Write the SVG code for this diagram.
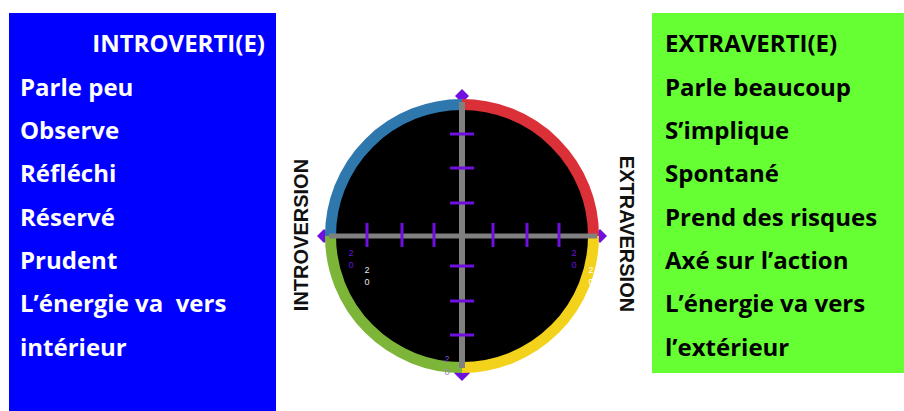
<svg xmlns="http://www.w3.org/2000/svg" width="904" height="411" viewBox="0 0 904 411">
<style>
.wt{font-family:"Open Sans",Lato,"Liberation Sans",sans-serif;font-weight:700;font-size:24px;fill:#ffffff}
.bt{font-family:"Open Sans",Lato,"Liberation Sans",sans-serif;font-weight:700;font-size:24px;fill:#000000}
.ax{font-family:"Liberation Sans",Arial,sans-serif;font-weight:700;font-size:20px;fill:#111111}
.ring{fill:none;stroke-width:11}
.tick{stroke:#6f10e0;stroke-width:3}
.axis{stroke:#808080}
.dia{fill:#6f10e0}
.sm{font-family:"Liberation Sans",Arial,sans-serif;font-size:9px;text-anchor:middle}
</style>
<rect width="904" height="411" fill="#ffffff"/>
<g id="introverti">
<rect x="9" y="13" width="267" height="398" fill="#0000ff"/>
<text class="wt" x="265" y="52" text-anchor="end">INTROVERTI(E)</text>
<text class="wt" x="20" y="95.5">Parle peu</text>
<text class="wt" x="20" y="139">Observe</text>
<text class="wt" x="20" y="182">Réfléchi</text>
<text class="wt" x="20" y="225.5">Réservé</text>
<text class="wt" x="20" y="269">Prudent</text>
<text class="wt" x="20" y="312" xml:space="preserve">L’énergie va  vers</text>
<text class="wt" x="20" y="355.5">intérieur</text>
</g>
<g id="extraverti">
<rect x="652" y="13" width="252" height="360" fill="#66ff33"/>
<text class="bt" x="665" y="52">EXTRAVERTI(E)</text>
<text class="bt" x="665" y="95.5">Parle beaucoup</text>
<text class="bt" x="665" y="139">S’implique</text>
<text class="bt" x="665" y="182">Spontané</text>
<text class="bt" x="665" y="225.5">Prend des risques</text>
<text class="bt" x="665" y="269">Axé sur l’action</text>
<text class="bt" x="665" y="312">L’énergie va vers</text>
<text class="bt" x="665" y="355.5">l’extérieur</text>
</g>
<g id="labels">
<text class="ax" transform="translate(308,235) rotate(-90)" text-anchor="middle">INTROVERSION</text>
<text class="ax" transform="translate(620,234) rotate(90)" text-anchor="middle">EXTRAVERSION</text>
</g>
<g id="compass">
<polygon class="dia" points="317,236 324,229 331,236 324,243"/>
<polygon class="dia" points="593,236 600,229 607,236 600,243"/>
<polygon class="dia" points="462,89 469,96 462,103 455,96"/>
<polygon class="dia" points="454,373 462,381 470,373 462,365"/>
<circle cx="462" cy="236" r="132" fill="#000000"/>
<path class="ring" stroke="#2e78ae" d="M330.5,236 A131.5,131.5 0 0 1 462,104.5"/>
<path class="ring" stroke="#dc3038" d="M462,104.5 A131.5,131.5 0 0 1 593.5,236"/>
<path class="ring" stroke="#f2d21a" d="M593.5,236 A131.5,131.5 0 0 1 462,367.5"/>
<path class="ring" stroke="#7cb537" d="M462,367.5 A131.5,131.5 0 0 1 330.5,236"/>
</g>
<g id="connectors">
<line class="axis" x1="329" y1="236" x2="597" y2="236" stroke-width="5"/>
<line class="axis" x1="462" y1="102" x2="462" y2="368" stroke-width="6"/>
<g class="tick">
<line x1="367" y1="223" x2="367" y2="247"/>
<line x1="402" y1="223" x2="402" y2="247"/>
<line x1="434" y1="223" x2="434" y2="247"/>
<line x1="493" y1="223" x2="493" y2="247"/>
<line x1="527" y1="223" x2="527" y2="247"/>
<line x1="559" y1="223" x2="559" y2="247"/>
<line x1="450" y1="134" x2="474" y2="134"/>
<line x1="450" y1="168" x2="474" y2="168"/>
<line x1="450" y1="203" x2="474" y2="203"/>
<line x1="450" y1="266" x2="474" y2="266"/>
<line x1="450" y1="301" x2="474" y2="301"/>
<line x1="450" y1="335" x2="474" y2="335"/>
</g>
</g>
<g id="scale-labels">
<text class="sm" x="351" y="256" fill="#6f10e0">2</text>
<text class="sm" x="351" y="268" fill="#6f10e0">0</text>
<text class="sm" x="367" y="273" fill="#e8e8e8">2</text>
<text class="sm" x="367" y="285" fill="#e8e8e8">0</text>
<text class="sm" x="574" y="256" fill="#6f10e0">2</text>
<text class="sm" x="574" y="268" fill="#6f10e0">0</text>
<text class="sm" x="591" y="273" fill="#ffffff">2</text>
<text class="sm" x="591" y="285" fill="#ffffff">0</text>
<text class="sm" x="447" y="362" fill="#7a50c8">2</text>
<text class="sm" x="447" y="375" fill="#9a88c8">0</text>
</g>
</svg>
